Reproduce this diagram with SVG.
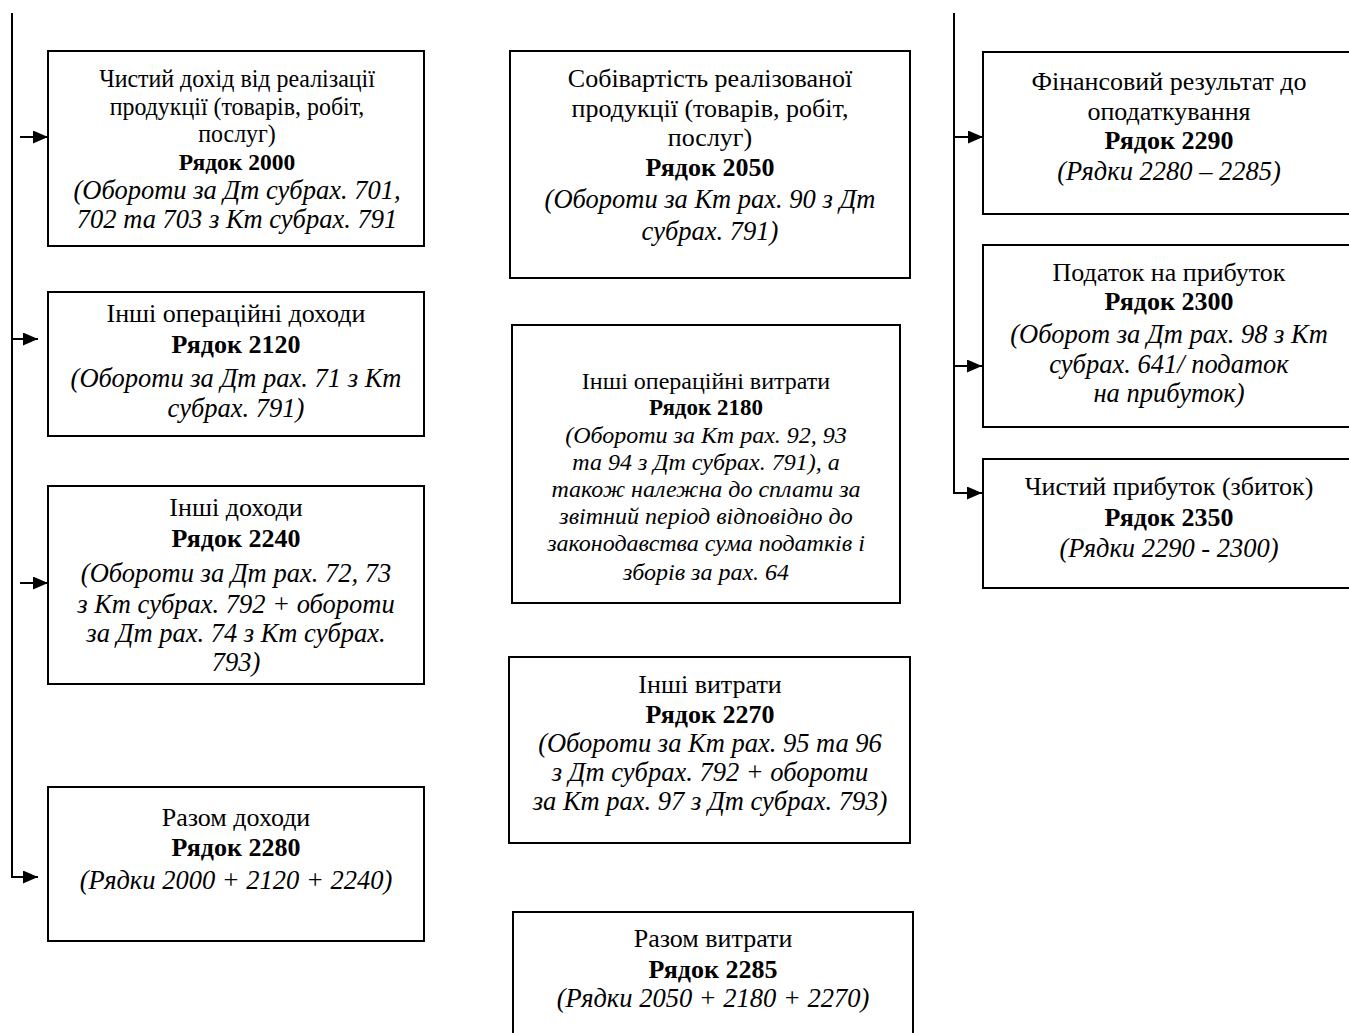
<svg xmlns="http://www.w3.org/2000/svg" width="1349" height="1033" viewBox="0 0 1349 1033">
  <style>
    .box { fill: #ffffff; stroke: #000000; stroke-width: 2; }
    .wire { fill: none; stroke: #000000; stroke-width: 2; }
    text { font-family: "Liberation Serif", "Times New Roman", serif; fill: #000000; text-anchor: middle; font-size: 26px; }
    .b { font-weight: bold; }
    .b24 { font-weight: bold; font-size: 24px; }
    .i { font-style: italic; font-size: 26.5px; }
    .sm { font-size: 24px; }
    .smb { font-size: 23px; font-weight: bold; }
    .smi { font-size: 24px; font-style: italic; }
  </style>
  <defs>
    <marker id="arrow" markerUnits="userSpaceOnUse" markerWidth="16" markerHeight="14" refX="15" refY="6.5" orient="auto">
      <path d="M0,0 L15,6.5 L0,13 z" fill="#000000"/>
    </marker>
  </defs>
  <rect width="1349" height="1033" fill="#ffffff"/>

  <!-- connectors -->
  <g id="connectors">
    <path class="wire" d="M12,13 V877 H38" marker-end="url(#arrow)"/>
    <line class="wire" x1="20" y1="137" x2="48" y2="137" marker-end="url(#arrow)"/>
    <line class="wire" x1="12" y1="339" x2="38" y2="339" marker-end="url(#arrow)"/>
    <line class="wire" x1="20" y1="583" x2="48" y2="583" marker-end="url(#arrow)"/>
    <path class="wire" d="M954,13 V493 H982" marker-end="url(#arrow)"/>
    <line class="wire" x1="954" y1="137" x2="983" y2="137" marker-end="url(#arrow)"/>
    <line class="wire" x1="954" y1="366" x2="982" y2="366" marker-end="url(#arrow)"/>
  </g>

  <!-- income column -->
  <g id="n2000">
    <rect class="box" x="48" y="51" width="376" height="195"/>
    <!-- the upper lines of this box are set slightly condensed -->
    <text transform="translate(237,87) scale(0.92,1)">Чистий дохід від реалізації</text>
    <text transform="translate(237,115) scale(0.92,1)">продукції (товарів, робіт,</text>
    <text transform="translate(237,142) scale(0.92,1)">послуг)</text>
    <text class="b24" transform="translate(237,170) scale(0.98,1)">Рядок 2000</text>
    <text class="i" x="237" y="199">(Обороти за Дт субрах. 701,</text>
    <text class="i" x="237" y="228">702 та 703 з Кт субрах. 791</text>
  </g>
  <g id="n2120">
    <rect class="box" x="48" y="292" width="376" height="144"/>
    <text x="236" y="322">Інші операційні доходи</text>
    <text class="b" x="236" y="353">Рядок 2120</text>
    <text class="i" x="236" y="387">(Обороти за Дт рах. 71 з Кт</text>
    <text class="i" x="236" y="417">субрах. 791)</text>
  </g>
  <g id="n2240">
    <rect class="box" x="48" y="486" width="376" height="198"/>
    <text x="236" y="516">Інші доходи</text>
    <text class="b" x="236" y="547">Рядок 2240</text>
    <text class="i" x="236" y="582">(Обороти за Дт рах. 72, 73</text>
    <text class="i" x="236" y="613">з Кт субрах. 792 + обороти</text>
    <text class="i" x="236" y="642">за Дт рах. 74 з Кт субрах.</text>
    <text class="i" x="236" y="671">793)</text>
    <line class="wire" x1="48" y1="684" x2="424" y2="684"/>
  </g>
  <g id="n2280">
    <rect class="box" x="48" y="787" width="376" height="154"/>
    <text x="236" y="826">Разом доходи</text>
    <text class="b" x="236" y="856">Рядок 2280</text>
    <text class="i" x="236" y="889">(Рядки 2000 + 2120 +  2240)</text>
  </g>

  <!-- expense column -->
  <g id="n2050">
    <rect class="box" x="510" y="51" width="400" height="227"/>
    <text x="710" y="87">Собівартість реалізованої</text>
    <text x="710" y="117">продукції (товарів, робіт,</text>
    <text x="710" y="146">послуг)</text>
    <text class="b" x="710" y="176">Рядок 2050</text>
    <text class="i" x="710" y="208">(Обороти за Кт рах. 90 з Дт</text>
    <text class="i" x="710" y="240">субрах. 791)</text>
  </g>
  <g id="n2180">
    <rect class="box" x="512" y="325" width="388" height="278"/>
    <text class="sm" x="706" y="389">Інші операційні витрати</text>
    <text class="smb" x="706" y="415">Рядок 2180</text>
    <text class="smi" x="706" y="443">(Обороти за Кт рах. 92, 93</text>
    <text class="smi" x="706" y="470">та 94 з Дт субрах. 791), а</text>
    <text class="smi" x="706" y="497">також належна до сплати за</text>
    <text class="smi" x="706" y="524">звітний період відповідно до</text>
    <text class="smi" x="706" y="551">законодавства сума податків і</text>
    <text class="smi" x="706" y="580">зборів за рах. 64</text>
  </g>
  <g id="n2270">
    <rect class="box" x="509" y="657" width="401" height="186"/>
    <text x="710" y="693">Інші витрати</text>
    <text class="b" x="710" y="723">Рядок 2270</text>
    <text class="i" x="710" y="752">(Обороти за Кт рах. 95 та 96</text>
    <text class="i" x="710" y="781">з Дт субрах. 792 + обороти</text>
    <text class="i" x="710" y="810">за Кт рах. 97 з Дт субрах. 793)</text>
  </g>
  <g id="n2285">
    <rect class="box" x="513" y="912" width="400" height="140"/>
    <text x="713" y="947">Разом витрати</text>
    <text class="b" x="713" y="978">Рядок 2285</text>
    <text class="i" x="713" y="1007">(Рядки 2050 + 2180 +  2270)</text>
  </g>

  <!-- result column -->
  <g id="n2290">
    <rect class="box" x="983" y="52" width="380" height="162"/>
    <text x="1169" y="90">Фінансовий результат до</text>
    <text x="1169" y="120">оподаткування</text>
    <text class="b" x="1169" y="149">Рядок 2290</text>
    <text class="i" x="1169" y="180">(Рядки 2280 – 2285)</text>
  </g>
  <g id="n2300">
    <rect class="box" x="983" y="245" width="380" height="182"/>
    <text x="1169" y="281">Податок на прибуток</text>
    <text class="b" x="1169" y="310">Рядок 2300</text>
    <text class="i" x="1169" y="343">(Оборот за Дт рах. 98 з Кт</text>
    <text class="i" x="1169" y="373">субрах.  641/ податок</text>
    <text class="i" x="1169" y="402">на прибуток)</text>
  </g>
  <g id="n2350">
    <rect class="box" x="983" y="459" width="380" height="129"/>
    <text x="1169" y="495">Чистий прибуток (збиток)</text>
    <text class="b" x="1169" y="526">Рядок 2350</text>
    <text class="i" x="1169" y="557">(Рядки 2290 - 2300)</text>
  </g>
</svg>
